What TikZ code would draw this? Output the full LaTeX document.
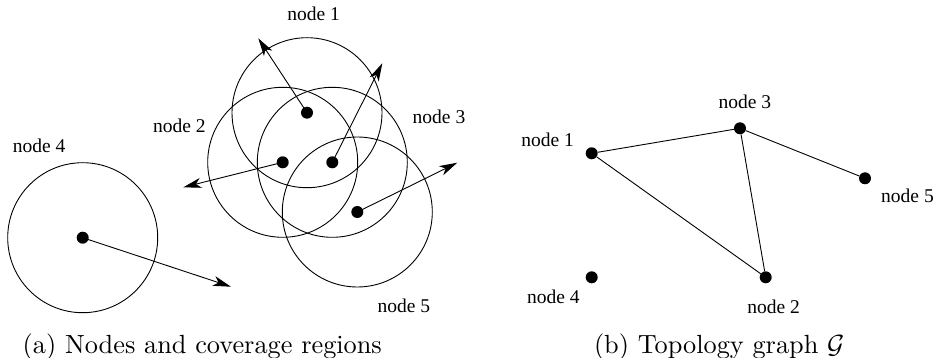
\documentclass[tikz,border=0pt]{standalone}
\usepackage{fontspec}
\newfontfamily\labfont{Liberation Serif}
\usetikzlibrary{arrows.meta}
\tikzset{
  dotnode/.style={circle, fill=black, inner sep=0pt, minimum size=12pt},
  coverring/.style={draw=black, line width=0.9pt},
  movearrow/.style={line width=0.9pt, -{Stealth[length=18pt, width=10pt, inset=5pt]}},
  graphedge/.style={line width=0.9pt},
  labtext/.style={anchor=base, inner sep=0pt, font=\labfont\fontsize{19.5}{20}\selectfont},
  captext/.style={anchor=base, inner sep=0pt, scale=2.63}
}
\begin{document}
\begin{tikzpicture}[x=1pt, y=-1pt]
\useasboundingbox (0,0) rectangle (935,358);
% (a) coverage regions
\node[dotnode] (a1) at (307,112.7) {};
\node[dotnode] (a2) at (282.7,162.3) {};
\node[dotnode] (a3) at (332.3,162.3) {};
\node[dotnode] (a4) at (82.7,237.7) {};
\node[dotnode] (a5) at (357.3,212) {};
\draw[coverring] (a1.center) circle[radius=75];
\draw[coverring] (a2.center) circle[radius=75];
\draw[coverring] (a3.center) circle[radius=75];
\draw[coverring] (a4.center) circle[radius=75];
\draw[coverring] (a5.center) circle[radius=75];
\coordinate (m1) at (258.3,38.3);
\coordinate (m2) at (183.3,187.3);
\coordinate (m3) at (382.3,63.3);
\coordinate (m4) at (231,286.7);
\coordinate (m5) at (457.3,162.7);
\draw[movearrow] (a1.center) -- (m1);
\draw[movearrow] (a2.center) -- (m2);
\draw[movearrow] (a3.center) -- (m3);
\draw[movearrow] (a4.center) -- (m4);
\draw[movearrow] (a5.center) -- (m5);
\node[labtext] (la1) at (313.7,21) {node 1};
\node[labtext] (la2) at (179.3,132.7) {node 2};
\node[labtext] (la3) at (439,124) {node 3};
\node[labtext] (la4) at (39.2,152.7) {node 4};
\node[labtext] (la5) at (403.8,312.3) {node 5};
% (b) topology graph
\node[dotnode] (b1) at (591.7,153.3) {};
\node[dotnode] (b2) at (765.7,277.3) {};
\node[dotnode] (b3) at (740,128.3) {};
\node[dotnode] (b4) at (591.7,277.3) {};
\node[dotnode] (b5) at (865,178.3) {};
\draw[graphedge] (b1) -- (b3);
\draw[graphedge] (b1) -- (b2);
\draw[graphedge] (b3) -- (b2);
\draw[graphedge] (b3) -- (b5);
\node[labtext] (lb1) at (547.7,146.7) {node 1};
\node[labtext] (lb2) at (773.7,313.8) {node 2};
\node[labtext] (lb3) at (744.8,108.3) {node 3};
\node[labtext] (lb4) at (553.3,304) {node 4};
\node[labtext] (lb5) at (907.5,202.7) {node 5};
% captions
\node[captext] (capa) at (202.3,353.5) {(a) Nodes and coverage regions};
\node[captext] (capb) at (719.2,353.5) {(b) Topology graph $\mathcal{G}$};
\end{tikzpicture}
\end{document}
